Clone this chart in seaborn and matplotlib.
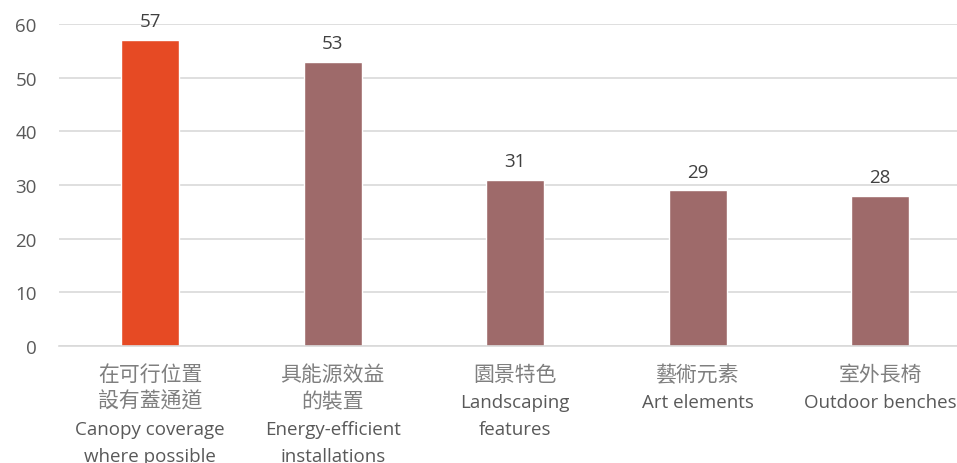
import matplotlib
matplotlib.use("Agg")
import matplotlib.pyplot as plt
import matplotlib.transforms as mtransforms
import seaborn as sns
import pandas as pd

labels_zh = ["在可行位置\n設有蓋通道", "具能源效益\n的裝置", "園景特色", "藝術元素", "室外長椅"]
labels_en = ["Canopy coverage\nwhere possible", "Energy-efficient\ninstallations",
             "Landscaping\nfeatures", "Art elements", "Outdoor benches"]
values = [57, 53, 31, 29, 28]
bar_colors = ["#E64A24", "#9E6A6A", "#9E6A6A", "#9E6A6A", "#9E6A6A"]
y_ticks = [0, 10, 20, 30, 40, 50, 60]

sns.set_theme(style="white")
plt.rcParams["font.family"] = ["Open Sans", "Noto Sans CJK TC", "DejaVu Sans"]

df = pd.DataFrame({"item": labels_en, "value": values})

fig = plt.figure(figsize=(9.57, 4.64), dpi=100)
ax = fig.add_axes([59 / 957, 1 - 347 / 464, (957 - 59) / 957, (347 - 25) / 464])

sns.barplot(data=df, x="item", y="value", hue="item", palette=bar_colors,
            legend=False, width=0.318, ax=ax, saturation=1)

ax.set_ylim(0, 60)
ax.set_xlim(-0.5, -0.5 + 898 / 182.5)
ax.set_yticks(y_ticks)
ax.yaxis.grid(True, color="#D9D9D9", linewidth=1.2)
ax.set_axisbelow(True)
for s in ["top", "right", "left"]:
    ax.spines[s].set_visible(False)
ax.spines["bottom"].set_color("#D9D9D9")
ax.spines["bottom"].set_linewidth(1.2)
ax.tick_params(axis="y", length=0, pad=16, labelsize=13.5, labelcolor="#595959")
ax.tick_params(axis="x", length=0)
ax.set_xticks(range(len(values)))
ax.set_xticklabels([""] * len(values))
ax.set_xlabel("")
ax.set_ylabel("")

for cont in ax.containers:
    ax.bar_label(cont, fmt="%d", padding=7, fontsize=13.5, color="#404040")

# category labels: Chinese lines first, then English lines, evenly spaced
px = 72 / 100
trans = mtransforms.blended_transform_factory(ax.transData, ax.transAxes)
for i, (zh, en) in enumerate(zip(labels_zh, labels_en)):
    lines = [(t, "zh") for t in zh.split("\n")] + [(t, "en") for t in en.split("\n")]
    for k, (txt, lang) in enumerate(lines):
        dy = -(28 + 27 * k) * px
        if lang == "zh":
            ax.annotate(txt, xy=(i, 0), xycoords=trans, xytext=(0, dy), textcoords="offset points",
                        ha="center", va="center", fontsize=15, color="#7F7F7F",
                        family=["Noto Sans CJK TC"], annotation_clip=False)
        else:
            ax.annotate(txt, xy=(i, 0), xycoords=trans, xytext=(0, dy - 1), textcoords="offset points",
                        ha="center", va="center", fontsize=13.5, color="#595959",
                        family=["Open Sans"], annotation_clip=False)

fig.savefig("out.png", dpi=100)
